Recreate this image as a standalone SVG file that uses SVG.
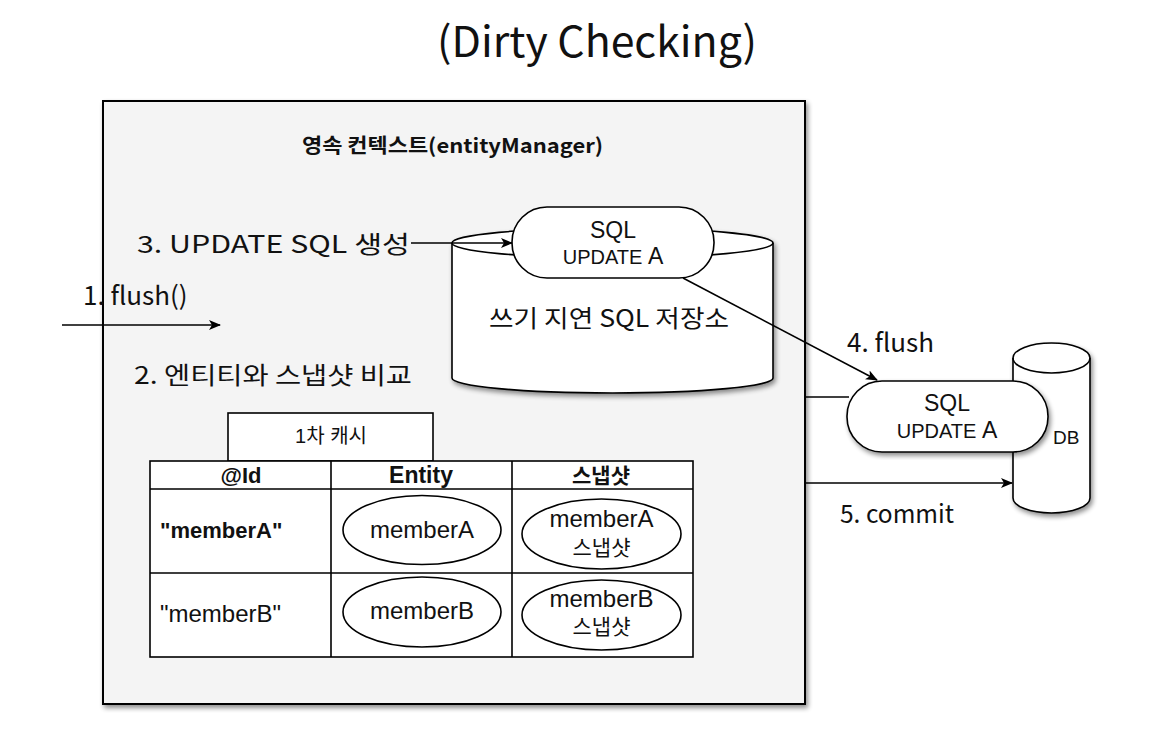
<svg xmlns="http://www.w3.org/2000/svg" width="1166" height="748" viewBox="0 0 1166 748">
<defs>
<filter id="sh" x="-10%" y="-10%" width="120%" height="120%">
<feGaussianBlur in="SourceAlpha" stdDeviation="2.5"/>
<feOffset dx="2" dy="3" result="b"/>
<feComponentTransfer><feFuncA type="linear" slope="0.45"/></feComponentTransfer>
<feMerge><feMergeNode/><feMergeNode in="SourceGraphic"/></feMerge>
</filter>
<marker id="arr" viewBox="0 0 12 10" refX="11" refY="5" markerWidth="12" markerHeight="10" markerUnits="userSpaceOnUse" orient="auto">
<path d="M0,0 L12,5 L0,10 L3,5 Z" fill="#000"/>
</marker>
</defs>
<style>
.k{font-family:"Noto Sans CJK KR","Noto Sans",sans-serif;fill:#111}
.h{font-family:"Liberation Sans","Noto Sans CJK KR",sans-serif;fill:#111}
.s{stroke:#000;stroke-width:1.6;fill:#fff}
.ln{stroke:#000;stroke-width:1.6;fill:none}
</style>
<rect width="1166" height="748" fill="#fff"/>
<text class="k" x="597" y="57" font-size="42" text-anchor="middle" textLength="320" lengthAdjust="spacingAndGlyphs">(Dirty Checking)</text>

<g id="context">
<rect x="103" y="101" width="702" height="603" fill="#f4f4f4" stroke="#000" stroke-width="2" filter="url(#sh)"/>
<text class="k" x="302" y="153" font-size="20" font-weight="bold" textLength="301" lengthAdjust="spacingAndGlyphs">영속 컨텍스트(entityManager)</text>
</g>

<g id="store">
<path class="s" filter="url(#sh)" d="M452,243 A160.5,15 0 0 1 773,243 L773,378 A160.5,15 0 0 1 452,378 Z"/>
<path class="ln" d="M452,243 A160.5,15 0 0 0 773,243"/>
<text class="k" x="489" y="327" font-size="24" textLength="240" lengthAdjust="spacingAndGlyphs">쓰기 지연 SQL 저장소</text>
</g>

<g id="sql1">
<rect class="s" x="512" y="207" width="202" height="71" rx="35" ry="35"/>
<text class="h" x="613" y="238" font-size="23" text-anchor="middle">SQL</text>
<text class="h" x="613" y="264" font-size="20" text-anchor="middle">UPDATE <tspan font-size="23">A</tspan></text>
</g>

<g id="db">
<path class="s" filter="url(#sh)" d="M1013,358 A38.5,15 0 0 1 1090,358 L1090,498 A38.5,15 0 0 1 1013,498 Z"/>
<path class="ln" d="M1013,358 A38.5,15 0 0 0 1090,358"/>
<text class="h" x="1053" y="444" font-size="19">DB</text>
</g>

<g id="sql2">
<rect class="s" x="847" y="381" width="201" height="71" rx="35" ry="35" filter="url(#sh)"/>
<text class="h" x="947" y="411" font-size="23" text-anchor="middle">SQL</text>
<text class="h" x="947" y="438" font-size="20" text-anchor="middle">UPDATE <tspan font-size="23">A</tspan></text>
</g>

<g id="cache">
<rect class="s" x="228" y="413" width="205" height="48"/>
<text class="h" x="331" y="443" font-size="20" text-anchor="middle">1차 캐시</text>
<rect class="s" x="150" y="461" width="543" height="196"/>
<path class="ln" d="M150,489 H693 M150,573 H693 M331,461 V657 M512,461 V657"/>
<text class="h" x="241" y="483" font-size="22" font-weight="bold" text-anchor="middle">@Id</text>
<text class="h" x="421" y="483" font-size="23" font-weight="bold" text-anchor="middle">Entity</text>
<text class="h" x="601" y="483" font-size="21" font-weight="bold" text-anchor="middle">스냅샷</text>
<text class="h" x="160" y="538" font-size="22" font-weight="bold">"memberA"</text>
<text class="h" x="160" y="622" font-size="24">"memberB"</text>
<ellipse class="s" cx="422" cy="530" rx="79" ry="34.5"/>
<text class="h" x="422" y="538" font-size="24" text-anchor="middle">memberA</text>
<ellipse class="s" cx="601.5" cy="534" rx="79.5" ry="35"/>
<text class="h" x="601.5" y="527" font-size="24" text-anchor="middle">memberA</text>
<text class="h" x="601.5" y="555" font-size="21" text-anchor="middle">스냅샷</text>
<ellipse class="s" cx="422" cy="612" rx="79" ry="35"/>
<text class="h" x="422" y="619" font-size="24" text-anchor="middle">memberB</text>
<ellipse class="s" cx="601.5" cy="615" rx="79.5" ry="35"/>
<text class="h" x="601.5" y="607" font-size="24" text-anchor="middle">memberB</text>
<text class="h" x="601.5" y="634" font-size="21" text-anchor="middle">스냅샷</text>
</g>

<g id="connectors">
<line class="ln" x1="62" y1="325" x2="220" y2="325" marker-end="url(#arr)"/>
<line class="ln" x1="411" y1="243" x2="512" y2="243" marker-end="url(#arr)"/>
<line class="ln" x1="683" y1="278" x2="877" y2="380" marker-end="url(#arr)"/>
<line class="ln" x1="805" y1="397" x2="849" y2="397"/>
<line class="ln" x1="805" y1="483" x2="1012" y2="483" marker-end="url(#arr)"/>
</g>

<g id="labels">
<text class="k" x="83" y="305" font-size="26">1. flush()</text>
<text class="k" x="137" y="253" font-size="24" textLength="273" lengthAdjust="spacingAndGlyphs">3. UPDATE SQL 생성</text>
<text class="k" x="134" y="384" font-size="24" textLength="278" lengthAdjust="spacingAndGlyphs">2. 엔티티와 스냅샷 비교</text>
<text class="k" x="847" y="352" font-size="26">4. flush</text>
<text class="k" x="840" y="523" font-size="24.5">5. commit</text>
</g>
</svg>
